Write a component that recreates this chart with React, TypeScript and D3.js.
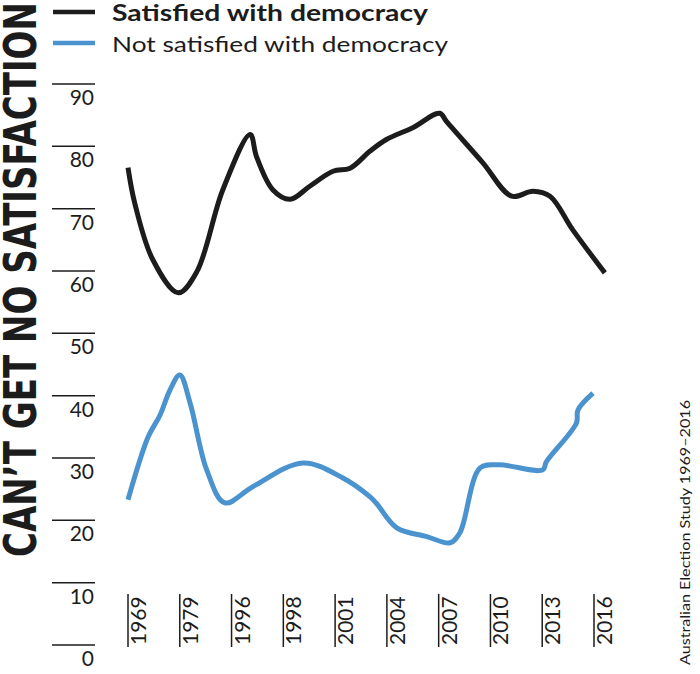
import React from 'react';
import * as d3 from 'd3';

const width = 700;
const height = 674;

// survey years along the bottom, one slot each
const years = ['1969', '1979', '1996', '1998', '2001', '2004', '2007', '2010', '2013', '2016'];
const yTicks = [0, 10, 20, 30, 40, 50, 60, 70, 80, 90];

// hand-drawn curves: position along the year slots, and percent
const satisfiedPos = [0, 0.13, 0.48, 0.97, 1.33, 1.83, 2.36, 2.48, 2.8, 3.13, 3.51, 3.96, 4.29, 4.67, 4.99, 5.5, 6.02, 6.15, 6.85, 7.41, 7.82, 8.15, 8.59, 9.21];
const satisfiedVal = [76.6, 70.9, 61.8, 56.5, 59.9, 73.0, 81.9, 78.4, 73.0, 71.5, 73.6, 76.0, 76.5, 79.2, 81.1, 83.0, 85.3, 84.0, 77.4, 72.0, 72.8, 72.0, 66.6, 59.7];

const notSatisfiedPos = [0, 0.39, 0.62, 0.81, 1.0, 1.2, 1.52, 1.87, 2.41, 3.38, 4.15, 4.67, 4.8, 5.19, 5.77, 6.22, 6.41, 6.8, 7.18, 8.01, 8.08, 8.66, 8.69, 8.98];
const notSatisfiedVal = [23.3, 33.4, 36.9, 40.9, 43.3, 38.8, 28.1, 22.8, 25.4, 29.2, 26.8, 23.8, 22.7, 18.8, 17.4, 16.4, 18.0, 28.4, 28.9, 28.1, 29.4, 35.6, 37.7, 40.4];

const legendItems = [
  { label: 'Satisfied with democracy', color: '#1c1c1c', weight: 700, len: 316 },
  { label: 'Not satisfied with democracy', color: '#4a93cf', weight: 400, len: 336 },
];

const font = 'Lato, "Open Sans", sans-serif';

export default function App(): JSX.Element {
  const x = d3.scaleLinear().domain([0, years.length - 1]).range([128, 594]);
  const y = d3.scaleLinear().domain([0, 90]).range([645, 84]);

  const line = d3
    .line<[number, number]>()
    .x((d) => x(d[0]))
    .y((d) => y(d[1]))
    .curve(d3.curveCatmullRom.alpha(0.5));

  const satisfied = satisfiedPos.map((p, i) => [p, satisfiedVal[i]] as [number, number]);
  const notSatisfied = notSatisfiedPos.map((p, i) => [p, notSatisfiedVal[i]] as [number, number]);

  return (
    <svg width={width} height={height} style={{ position: 'absolute', left: 0, top: 0, background: '#fff' }}>
      {/* big title down the left side */}
      <text
        transform="translate(36,557) rotate(-90)"
        fontFamily='"Liberation Sans Narrow", "DejaVu Sans Condensed", sans-serif'
        fontWeight={700}
        fontSize={44}
        textLength={555}
        lengthAdjust="spacingAndGlyphs"
        fill="#1c1c1c"
      >
        CAN’T GET NO SATISFACTION
      </text>

      {/* legend */}
      {legendItems.map((d, i) => (
        <g key={d.label} transform={`translate(0,${12 + i * 31})`}>
          <line x1={53} x2={95} y1={0} y2={0} stroke={d.color} strokeWidth={4.5} />
          <text
            x={112}
            y={9}
            fontFamily={font}
            fontWeight={d.weight}
            fontSize={22}
            textLength={d.len}
            lengthAdjust="spacingAndGlyphs"
            fill="#1c1c1c"
          >
            {d.label}
          </text>
        </g>
      ))}

      {/* y axis */}
      {yTicks.map((t) => (
        <g key={t} transform={`translate(0,${y(t)})`}>
          <line x1={52} x2={95} stroke="#1c1c1c" strokeWidth={1.5} />
          <text x={94} y={21} textAnchor="end" fontFamily={font} fontSize={21} fill="#1c1c1c">
            {t}
          </text>
        </g>
      ))}

      {/* x axis */}
      {years.map((yr, i) => (
        <g key={yr} transform={`translate(${x(i)},0)`}>
          <line x1={0} x2={0} y1={594} y2={647} stroke="#1c1c1c" strokeWidth={1.5} />
          <text transform="translate(18,645) rotate(-90)" fontFamily={font} fontSize={21} fill="#1c1c1c">
            {yr}
          </text>
        </g>
      ))}

      {/* series */}
      <path d={line(notSatisfied) || ''} fill="none" stroke="#4a93cf" strokeWidth={5} strokeLinejoin="round" />
      <path d={line(satisfied) || ''} fill="none" stroke="#1c1c1c" strokeWidth={5} strokeLinejoin="round" />

      {/* source */}
      <text
        transform="translate(690,665) rotate(-90)"
        fontFamily={font}
        fontSize={14}
        textLength={265}
        lengthAdjust="spacingAndGlyphs"
        fill="#1c1c1c"
      >
        Australian Election Study 1969–2016
      </text>
    </svg>
  );
}
